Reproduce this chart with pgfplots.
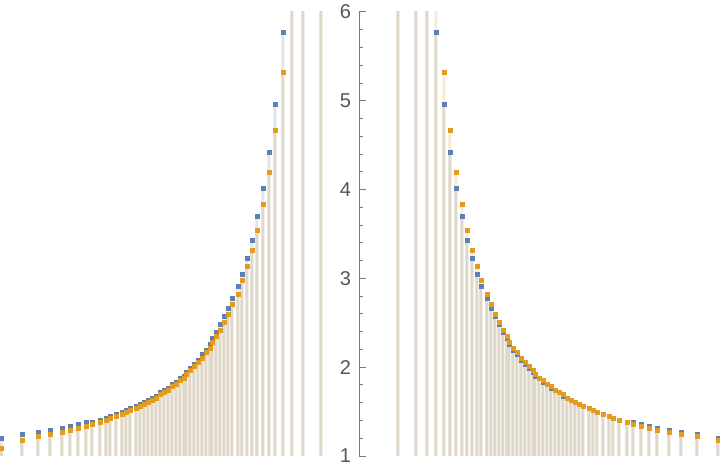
\documentclass[border=0pt]{standalone}
\usepackage{fontspec}
\setmainfont{Liberation Sans}
\usepackage{pgfplots}
\usepackage{pgfplotstable}
\pgfplotsset{compat=1.18}
\definecolor{mblue}{HTML}{5E81B5}
\definecolor{morange}{HTML}{E19C24}
\definecolor{axisgray}{HTML}{7A7A7A}
\definecolor{labelgray}{HTML}{555555}

% d = distance from the y axis (pixels of the reference), b = blue,
% o = orange on the left, orr = orange on the right (shifted one step out)
\pgfplotstableread{
d      b      o      orr
358.5  1.203  1.090  1.180
337.5  1.248  1.180  1.225
321.5  1.270  1.225  1.248
309.5  1.293  1.248  1.270
297.5  1.315  1.270  1.293
289.5  1.338  1.293  1.315
281.5  1.360  1.315  1.338
273.5  1.383  1.338  1.360
267.5  1.383  1.360  1.383
259.5  1.405  1.383  1.405
253.5  1.428  1.405  1.428
249.5  1.450  1.428  1.450
243.5  1.473  1.450  1.473
237.5  1.495  1.473  1.495
233.5  1.518  1.495  1.518
229.5  1.541  1.518  1.541
223.5  1.563  1.541  1.563
219.5  1.586  1.563  1.586
215.5  1.608  1.586  1.608
211.5  1.631  1.608  1.631
207.5  1.653  1.631  1.653
203.5  1.676  1.653  1.698
199.5  1.721  1.698  1.721
195.5  1.743  1.721  1.743
191.5  1.766  1.743  1.788
187.5  1.811  1.788  1.811
183.5  1.833  1.811  1.856
179.5  1.878  1.856  1.878
175.5  1.901  1.878  1.923
173.5  1.946  1.923  1.968
169.5  1.991  1.968  2.014
165.5  2.036  2.014  2.059
161.5  2.081  2.059  2.104
157.5  2.149  2.104  2.171
153.5  2.194  2.171  2.216
149.5  2.261  2.216  2.284
147.5  2.329  2.284  2.351
143.5  2.396  2.351  2.419
139.5  2.486  2.419  2.509
135.5  2.577  2.509  2.599
131.5  2.667  2.599  2.712
127.5  2.779  2.712  2.824
121.5  2.914  2.824  2.982
117.5  3.050  2.982  3.140
112.5  3.230  3.140  3.320
107.5  3.432  3.320  3.545
102.5  3.703  3.545  3.838
96.5   4.018  3.838  4.198
90.5   4.423  4.198  4.671
84.5   4.964  4.671  5.324
76.5   5.775  5.324  6.400
67.5   6.900  6.400  7.600
56.5   8.300  7.600  10.50
38.5   12.00  10.50  16.00
38.5   12.50  11.00  17.00
38.5   13.00  11.50  18.00
}\pts

\begin{document}
\begin{tikzpicture}
\useasboundingbox (0,-8bp) rectangle (360bp,228bp);
\begin{axis}[
  at={(0,0)}, anchor=south west,
  scale only axis, width=360bp, height=222bp,
  xmin=-359.5, xmax=360.5, ymin=1, ymax=6,
  axis x line=none, axis y line=middle,
  y axis line style={-, axisgray, line width=0.5bp},
  ytick={1,2,3,4,5,6}, minor y tick num=4,
  ytick align=inside,
  major tick length=3.5bp, minor tick length=2bp,
  every tick/.append style={axisgray, line width=0.5bp},
  yticklabel style={font=\fontsize{10bp}{11bp}\selectfont, text=labelgray,
    inner sep=0pt, anchor=east, xshift=-4bp},
  /pgf/number format/assume math mode=true,
  fill bar/.style={ybar, bar width=1.5bp, bar shift=0pt, draw=none, fill opacity=0.2},
  dots/.style={only marks, mark=square*, mark size=1bp, mark options={draw=none}},
]
\addplot[fill bar, fill=mblue] table[x expr=-\thisrow{d}, y=b] {\pts};
\addplot[fill bar, fill=mblue] table[x=d, y=b] {\pts};
\addplot[fill bar, fill=morange] table[x expr=-\thisrow{d}, y=o] {\pts};
\addplot[fill bar, fill=morange] table[x=d, y=orr] {\pts};
\addplot[dots, mblue, mark options={fill=mblue}] table[x expr=-\thisrow{d}, y=b] {\pts};
\addplot[dots, mblue, mark options={fill=mblue}] table[x=d, y=b] {\pts};
\addplot[dots, morange, mark options={fill=morange}] table[x expr=-\thisrow{d}, y=o] {\pts};
\addplot[dots, morange, mark options={fill=morange}] table[x=d, y=orr] {\pts};
\end{axis}
\end{tikzpicture}
\end{document}
